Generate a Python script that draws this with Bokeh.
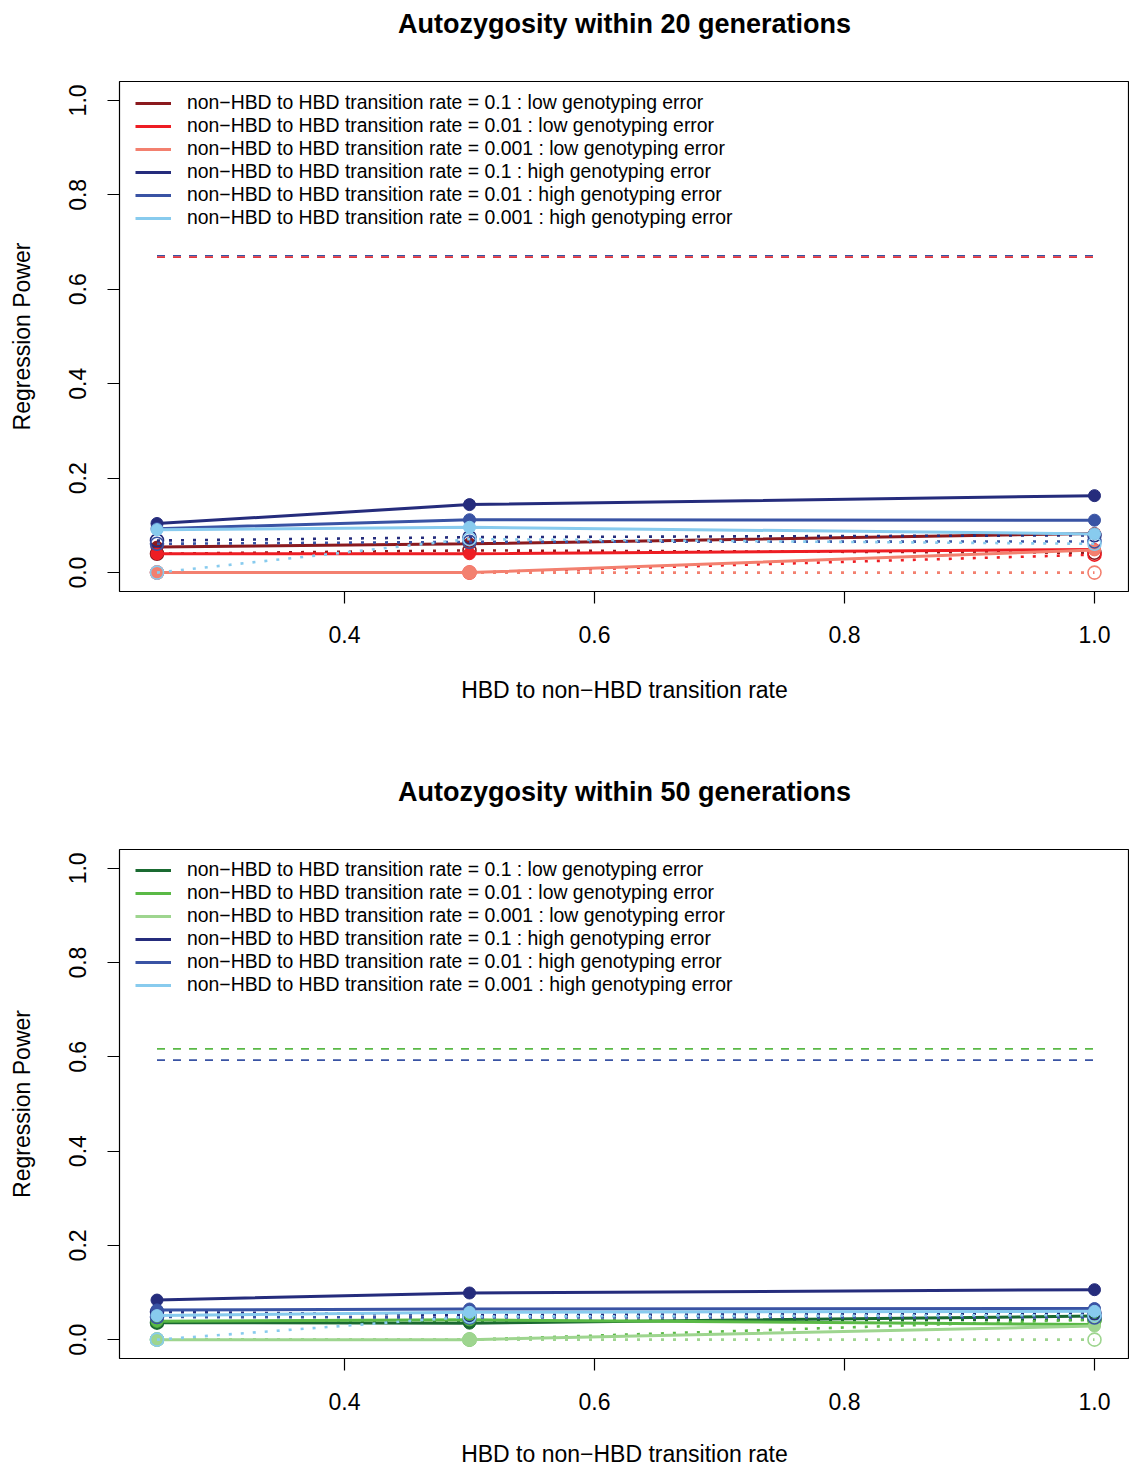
from bokeh.plotting import figure
from bokeh.models import FixedTicker, PrintfTickFormatter, Legend, LegendItem, Title
from bokeh.layouts import column
from bokeh.embed import file_html
from bokeh.resources import INLINE

# HBD to non-HBD transition rate (x values)
x_rates = [0.25, 0.5, 1.0]
x_ticks = [0.4, 0.6, 0.8, 1.0]
y_ticks = [0.0, 0.2, 0.4, 0.6, 0.8, 1.0]

series_labels = [
    "non\u2212HBD to HBD transition rate = 0.1 : low genotyping error",
    "non\u2212HBD to HBD transition rate = 0.01 : low genotyping error",
    "non\u2212HBD to HBD transition rate = 0.001 : low genotyping error",
    "non\u2212HBD to HBD transition rate = 0.1 : high genotyping error",
    "non\u2212HBD to HBD transition rate = 0.01 : high genotyping error",
    "non\u2212HBD to HBD transition rate = 0.001 : high genotyping error",
]
colors_20 = ["#8B1A1E", "#EE1D23", "#F3806F", "#252C7C", "#3953A4", "#88CBEE"]
colors_50 = ["#1A6A31", "#5AB946", "#9ED58F", "#252C7C", "#3953A4", "#88CBEE"]

# ---- Autozygosity within 20 generations ----
# solid lines (filled circles)
g20_low_p1 = [0.054, 0.061, 0.083]
g20_low_p01 = [0.040, 0.040, 0.049]
g20_low_p001 = [0.0, 0.0, 0.048]
g20_high_p1 = [0.104, 0.144, 0.163]
g20_high_p01 = [0.093, 0.112, 0.111]
g20_high_p001 = [0.091, 0.096, 0.082]
# dotted lines (open circles)
g20_low_p1_alt = [0.040, 0.047, 0.042]
g20_low_p01_alt = [0.0, 0.0, 0.038]
g20_low_p001_alt = [0.0, 0.0, 0.0]
g20_high_p1_alt = [0.068, 0.075, 0.079]
g20_high_p01_alt = [0.061, 0.065, 0.066]
g20_high_p001_alt = [0.0, 0.071, 0.061]
# dashed reference levels
g20_ref_high = 0.671
g20_ref_low = 0.668

# ---- Autozygosity within 50 generations ----
g50_low_p1 = [0.036, 0.035, 0.050]
g50_low_p01 = [0.039, 0.042, 0.032]
g50_low_p001 = [0.0, 0.0, 0.029]
g50_high_p1 = [0.084, 0.099, 0.106]
g50_high_p01 = [0.063, 0.065, 0.066]
g50_high_p001 = [0.051, 0.058, 0.060]
g50_low_p1_alt = [0.036, 0.040, 0.042]
g50_low_p01_alt = [0.0, 0.0, 0.043]
g50_low_p001_alt = [0.0, 0.0, 0.0]
g50_high_p1_alt = [0.059, 0.052, 0.056]
g50_high_p01_alt = [0.048, 0.047, 0.047]
g50_high_p001_alt = [0.0, 0.049, 0.052]
g50_ref_low = 0.617
g50_ref_high = 0.593

FONT = "Liberation Sans"
X_LABEL = "HBD to non\u2212HBD transition rate"


def make_panel(title, solid, dotted, colors, refs, height, border_bottom, xlabel_standoff):
    p = figure(width=1129, height=height, x_range=(0.22, 1.028), y_range=(-0.04, 1.04),
               output_backend="svg", toolbar_location=None,
               min_border_left=119, min_border_right=0, min_border_top=81,
               min_border_bottom=border_bottom)
    # spacer panel between the frame and the title
    p.add_layout(Title(text=" ", text_font=FONT, text_font_size="27px", standoff=11), "above")
    p.title.text = title
    p.title.align = "center"
    p.title.vertical_align = "bottom"
    p.title.text_font = FONT
    p.title.text_font_size = "27px"
    p.title.text_font_style = "bold"
    p.title.text_color = "black"
    p.title.standoff = 0

    p.xgrid.visible = False
    p.ygrid.visible = False
    p.outline_line_color = "black"
    p.outline_line_width = 1.2
    p.background_fill_color = "white"
    p.border_fill_color = "white"

    p.xaxis.ticker = FixedTicker(ticks=x_ticks)
    p.yaxis.ticker = FixedTicker(ticks=y_ticks)
    p.xaxis.formatter = PrintfTickFormatter(format="%.1f")
    p.yaxis.formatter = PrintfTickFormatter(format="%.1f")
    p.yaxis.major_label_orientation = "vertical"
    for ax in (p.xaxis, p.yaxis):
        ax.axis_line_color = None
        ax.major_tick_in = 0
        ax.major_tick_out = 12
        ax.major_tick_line_color = "black"
        ax.major_tick_line_width = 1.2
        ax.minor_tick_line_color = None
        ax.major_label_text_font = FONT
        ax.major_label_text_font_size = "23px"
        ax.major_label_text_color = "black"
        ax.axis_label_text_font = FONT
        ax.axis_label_text_font_size = "23px"
        ax.axis_label_text_font_style = "normal"
        ax.axis_label_text_color = "black"
    p.xaxis.axis_label = X_LABEL
    p.yaxis.axis_label = "Regression Power"
    p.xaxis.major_label_standoff = 22
    p.xaxis.axis_label_standoff = xlabel_standoff
    p.yaxis.major_label_standoff = 21
    p.yaxis.axis_label_standoff = 32

    # dashed reference lines
    for val, col in refs:
        p.line([x_rates[0], x_rates[-1]], [val, val], line_color=col,
               line_width=1.6, line_dash="8 8")

    items = []
    for i in range(6):
        col = colors[i]
        r = p.line(x_rates, solid[i], line_color=col, line_width=3)
        p.scatter(x_rates, solid[i], marker="circle", size=12,
                  fill_color=col, line_color=col)
        p.line(x_rates, dotted[i], line_color=col, line_width=2.6, line_dash="3 9")
        p.scatter(x_rates, dotted[i], marker="circle", size=13,
                  fill_color=None, line_color=col, line_width=1.6)
        items.append(LegendItem(label=series_labels[i], renderers=[r]))

    legend = Legend(items=items, location=(16, 362), padding=0, margin=0,
                    spacing=0, label_height=22, glyph_height=22, glyph_width=36,
                    label_standoff=16, label_text_font=FONT,
                    label_text_font_size="19.4px", label_text_color="black",
                    border_line_color=None, background_fill_alpha=0)
    p.add_layout(legend, "center")
    return p


p1 = make_panel(
    "Autozygosity within 20 generations",
    [g20_low_p1, g20_low_p01, g20_low_p001, g20_high_p1, g20_high_p01, g20_high_p001],
    [g20_low_p1_alt, g20_low_p01_alt, g20_low_p001_alt,
     g20_high_p1_alt, g20_high_p01_alt, g20_high_p001_alt],
    colors_20, [(g20_ref_high, "#3953A4"), (g20_ref_low, "#E8363D")], 768, 177, 31)

p2 = make_panel(
    "Autozygosity within 50 generations",
    [g50_low_p1, g50_low_p01, g50_low_p001, g50_high_p1, g50_high_p01, g50_high_p001],
    [g50_low_p1_alt, g50_low_p01_alt, g50_low_p001_alt,
     g50_high_p1_alt, g50_high_p01_alt, g50_high_p001_alt],
    colors_50, [(g50_ref_low, "#5AB946"), (g50_ref_high, "#3953A4")], 701, 110, 28)

layout = column(p1, p2, spacing=0)
open("out.html", "w").write(file_html(layout, INLINE))
